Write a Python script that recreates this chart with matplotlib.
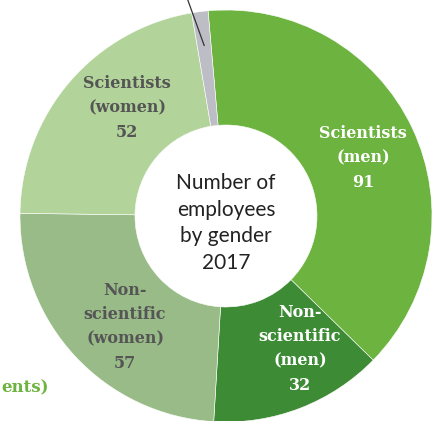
import matplotlib
matplotlib.use("Agg")
import numpy as np
import matplotlib.pyplot as plt

# Employee counts by group (2017)
categories = ["Scientists\n(men)", "Non-\nscientific\n(men)", "Non-\nscientific\n(women)",
              "Scientists\n(women)", "Other"]
values = [91, 32, 57, 52, 3]
colors = ["#6db33f", "#3d8b35", "#98bb87", "#b2d49a", "#bdbdc5"]
text_colors = ["white", "white", "#555555", "#555555", None]
center_title = "Number of\nemployees\nby gender\n2017"

W, H = 433, 421
fig = plt.figure(figsize=(W / 100, H / 100), dpi=100)
ax = fig.add_axes([0, 0, 1, 1])

cx, cy = 226, H - 216
r_out, r_in = 206, 91

wedges, _ = ax.pie(values, colors=colors, startangle=95, counterclock=False,
                   center=(cx, cy), radius=r_out,
                   wedgeprops=dict(width=r_out - r_in, edgecolor="white", linewidth=0.4))
ax.set_xlim(0, W)
ax.set_ylim(0, H)
ax.set_aspect("equal")
ax.axis("off")

# label anchor points (pixel space, origin bottom-left)
label_pos = [(363, H - 158), (300, H - 349), (125, H - 327), (127, H - 108)]
for (x, y), lab, val, tc in zip(label_pos, categories, values, text_colors):
    ax.text(x, y, f"{lab}\n{val}", ha="center", va="center", color=tc,
            fontsize=11.5, fontweight="bold", family="DejaVu Serif",
            linespacing=1.55)

ax.text(cx, cy - 7, center_title, ha="center", va="center", color="#222222",
        fontsize=15, family="Lato", linespacing=1.4)

# leader line into the small grey segment
g = wedges[-1]
mid = np.deg2rad((g.theta1 + g.theta2) / 2)
x0, y0 = cx + 172 * np.cos(mid), cy + 172 * np.sin(mid)
ax.plot([x0, x0 - 18], [y0, y0 + 50], color="#333333", lw=0.9, clip_on=False)

# tail of the neighbouring legend text at the left edge
ax.text(1, H - 388, "ents)", ha="left", va="center", color="#6db33f",
        fontsize=12, fontweight="bold", family="DejaVu Serif")

fig.savefig("out.png", dpi=100)
